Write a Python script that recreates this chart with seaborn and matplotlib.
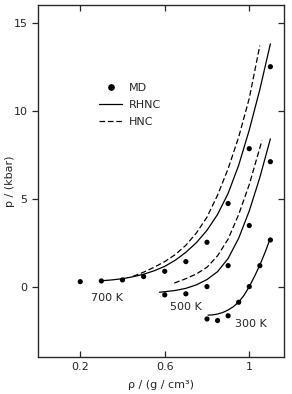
import numpy as np
import pandas as pd
import matplotlib
matplotlib.use("Agg")
import matplotlib.pyplot as plt
from matplotlib.lines import Line2D
import seaborn as sns

# points MD (densité en g/cm3, pression en kbar)
md_700_rho = [0.2, 0.3, 0.4, 0.5, 0.6, 0.7, 0.8, 0.9, 1.0, 1.1]
md_700_p = [0.28, 0.32, 0.38, 0.57, 0.87, 1.42, 2.52, 4.72, 7.84, 12.5]
md_500_rho = [0.6, 0.7, 0.8, 0.9, 1.0, 1.1]
md_500_p = [-0.47, -0.41, 0.0, 1.19, 3.47, 7.1]
md_300_rho = [0.8, 0.85, 0.9, 0.95, 1.0, 1.05, 1.1]
md_300_p = [-1.84, -1.93, -1.66, -0.89, 0.0, 1.19, 2.65]

# courbes RHNC (trait plein) et HNC (tirets)
rhnc_700_rho = [0.3, 0.35, 0.4, 0.45, 0.5, 0.55, 0.6, 0.65, 0.7, 0.75, 0.8,
                0.85, 0.9, 0.95, 1.0, 1.05, 1.1]
rhnc_700_p = [0.33, 0.38, 0.45, 0.56, 0.7, 0.9, 1.15, 1.5, 1.95, 2.5, 3.2,
              4.1, 5.3, 6.9, 8.9, 11.2, 13.8]
hnc_700_rho = [0.45, 0.5, 0.55, 0.6, 0.65, 0.7, 0.75, 0.8, 0.85, 0.9, 0.95,
               1.0, 1.05]
hnc_700_p = [0.58, 0.82, 1.1, 1.42, 1.82, 2.35, 3.05, 3.95, 5.2, 6.7, 8.5,
             10.7, 13.7]
rhnc_500_rho = [0.575, 0.6, 0.65, 0.7, 0.75, 0.8, 0.85, 0.9, 0.95, 1.0, 1.05, 1.1]
rhnc_500_p = [-0.32, -0.29, -0.22, -0.1, 0.1, 0.4, 0.85, 1.6, 2.75, 4.3, 6.2, 8.4]
hnc_500_rho = [0.645, 0.7, 0.75, 0.8, 0.85, 0.9, 0.95, 1.0, 1.06]
hnc_500_p = [0.2, 0.45, 0.72, 1.1, 1.75, 2.7, 4.1, 5.8, 8.3]
rhnc_300_rho = [0.805, 0.825, 0.85, 0.875, 0.9, 0.925, 0.95, 0.975, 1.0,
                1.025, 1.05, 1.075, 1.1]
rhnc_300_p = [-1.62, -1.61, -1.56, -1.47, -1.33, -1.14, -0.88, -0.5, 0.0,
              0.58, 1.22, 1.95, 2.75]

temp_labels = ["700 K", "500 K", "300 K"]
temp_label_pos = [(0.328, -0.63), (0.698, -1.14), (1.01, -2.1)]

sns.set_style("ticks")
plt.rcParams["font.family"] = ["DejaVu Sans"]

fig = plt.figure(figsize=(2.92, 3.94), dpi=100)
ax = fig.add_axes([0.130, 0.094, 0.843, 0.893])

md = pd.concat([
    pd.DataFrame({"rho": md_700_rho, "p": md_700_p}),
    pd.DataFrame({"rho": md_500_rho, "p": md_500_p}),
    pd.DataFrame({"rho": md_300_rho, "p": md_300_p}),
])
sns.scatterplot(data=md, x="rho", y="p", color="black", s=14, edgecolor="none", ax=ax, zorder=3)

tirets = (0, (4.5, 2.2))
courbes = [
    (rhnc_700_rho, rhnc_700_p, "-"),
    (hnc_700_rho, hnc_700_p, tirets),
    (rhnc_500_rho, rhnc_500_p, "-"),
    (hnc_500_rho, hnc_500_p, tirets),
    (rhnc_300_rho, rhnc_300_p, "-"),
]
for x, y, ls in courbes:
    sns.lineplot(x=x, y=y, color="black", lw=0.9, linestyle=ls, sort=False,
                 estimator=None, ax=ax)

for txt, (x, y) in zip(temp_labels, temp_label_pos):
    ax.text(x, y, txt, ha="center", va="center", fontsize=8)

ax.set_xlim(0.0, 1.165)
ax.set_ylim(-4.0, 16.0)
ax.set_xticks([0.2, 0.6, 1.0])
ax.set_xticklabels(["0.2", "0.6", "1"])
ax.set_yticks([0, 5, 10, 15])
ax.tick_params(axis="both", labelsize=8, width=0.9, length=4)
ax.tick_params(axis="x", direction="in", top=True)
ax.tick_params(axis="y", direction="out")
for s in ax.spines.values():
    s.set_linewidth(0.9)
ax.set_xlabel("ρ / (g / cm³)", fontsize=8, labelpad=6)
ax.set_ylabel("p / (kbar)", fontsize=8)
ax.yaxis.set_label_coords(-0.095, 0.5)

# graduations à droite, vers l'intérieur
ax2 = ax.twinx()
ax2.set_ylim(ax.get_ylim())
ax2.set_yticks([0, 5, 10, 15])
ax2.tick_params(axis="y", direction="in", width=0.9, length=4, labelright=False)

handles = [
    Line2D([], [], marker="o", color="black", linestyle="none", markersize=3.8),
    Line2D([], [], color="black", lw=0.9),
    Line2D([], [], color="black", lw=0.9, linestyle=tirets),
]
ax.legend(handles, ["MD", "RHNC", "HNC"], loc="upper left", bbox_to_anchor=(0.25, 0.78),
          frameon=False, fontsize=8, handlelength=2.0, handletextpad=0.6,
          labelspacing=0.65, borderaxespad=0, borderpad=0)

fig.savefig("out.png", dpi=100)
